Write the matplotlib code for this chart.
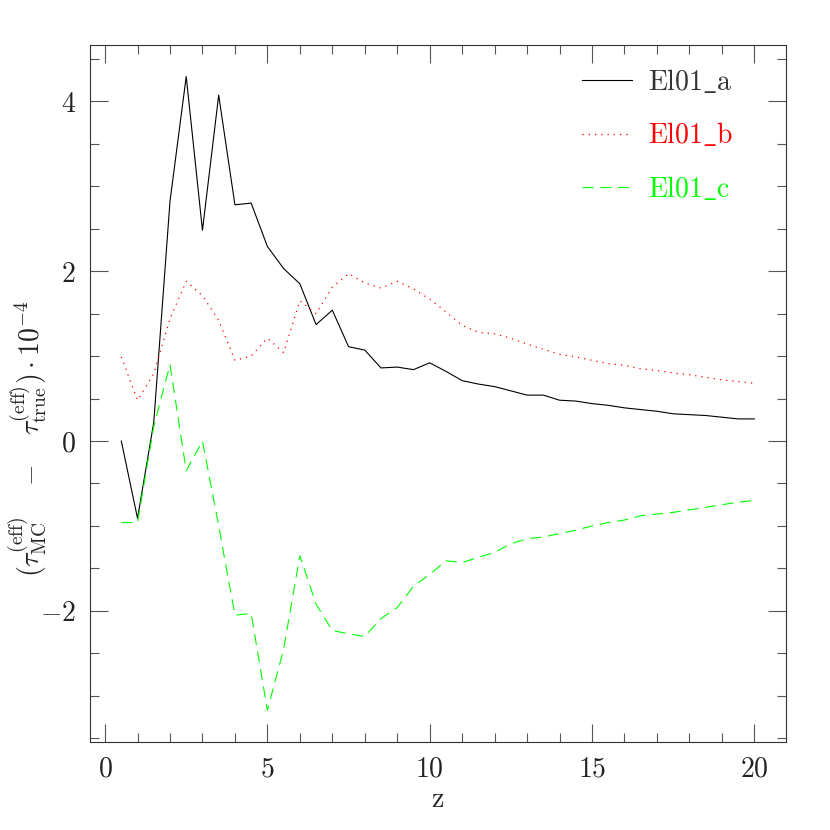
import matplotlib
matplotlib.use("Agg")
import matplotlib.pyplot as plt
from matplotlib.ticker import MultipleLocator, FuncFormatter
import numpy as np

plt.rcParams['mathtext.fontset'] = 'cm'
plt.rcParams['font.family'] = ['DejaVu Serif']

z = [0.5, 1.0, 1.5, 2.0, 2.5, 3.0, 3.5, 4.0, 4.5, 5.0, 5.5, 6.0, 6.5, 7.0, 7.5, 8.0,
     8.5, 9.0, 9.5, 10.0, 10.5, 11.0, 11.5, 12.0, 12.5, 13.0, 13.5, 14.0, 14.5, 15.0,
     15.5, 16.0, 16.5, 17.0, 17.5, 18.0, 18.5, 19.0, 19.5, 20.0]

el01_a = [0.00, -0.91, 0.22, 2.82, 4.29, 2.48, 4.07, 2.78, 2.80, 2.29, 2.03, 1.85, 1.37, 1.54,
          1.11, 1.07, 0.86, 0.87, 0.84, 0.92, 0.82, 0.71, 0.67, 0.64, 0.59, 0.54, 0.54, 0.48,
          0.47, 0.44, 0.42, 0.39, 0.37, 0.35, 0.32, 0.31, 0.30, 0.28, 0.26, 0.26]

el01_b = [0.99, 0.48, 0.79, 1.44, 1.88, 1.71, 1.42, 0.95, 1.00, 1.21, 1.04, 1.65, 1.50, 1.81,
          1.97, 1.86, 1.80, 1.88, 1.79, 1.67, 1.52, 1.36, 1.28, 1.26, 1.21, 1.14, 1.08, 1.02,
          0.99, 0.95, 0.91, 0.89, 0.85, 0.83, 0.80, 0.78, 0.75, 0.72, 0.70, 0.68]

el01_c = [-0.96, -0.96, 0.17, 0.90, -0.35, 0.00, -1.00, -2.05, -2.03, -3.17, -2.45, -1.35,
          -1.92, -2.23, -2.27, -2.30, -2.09, -1.96, -1.71, -1.57, -1.41, -1.43, -1.37, -1.31,
          -1.21, -1.15, -1.13, -1.09, -1.05, -1.00, -0.96, -0.93, -0.88, -0.86, -0.84, -0.81,
          -0.78, -0.75, -0.72, -0.70]

labels = [r'$\rm El01\_a$', r'$\rm El01\_b$', r'$\rm El01\_c$']

fig = plt.figure(figsize=(8.3, 8.3), dpi=100)
ax = fig.add_axes([0.108, 0.106, 0.839, 0.840])

ax.plot(z, el01_a, color='black', lw=0.8, ls='-', label=labels[0])
ax.plot(z, el01_b, color='red', lw=0.9, ls=(0, (1, 4)), label=labels[1])
ax.plot(z, el01_c, color='#00ff00', lw=0.8, ls=(0, (10, 6)), label=labels[2])

ax.xaxis.set_major_locator(MultipleLocator(5))
ax.xaxis.set_minor_locator(MultipleLocator(1))
ax.yaxis.set_major_locator(MultipleLocator(2))
ax.yaxis.set_minor_locator(MultipleLocator(0.5))
fmt = FuncFormatter(lambda v, p: r'$%d$' % int(round(v)))
ax.xaxis.set_major_formatter(fmt)
ax.yaxis.set_major_formatter(fmt)

ax.tick_params(which='both', direction='in', top=True, right=True, color='#555555', width=0.8)
ax.tick_params(which='major', length=13, labelsize=20, pad=10, labelcolor='#222222')
ax.tick_params(which='minor', length=6.5)
for s in ax.spines.values():
    s.set_color('#333333')
    s.set_linewidth(0.8)

ax.set_xlabel(r'$\rm z$', fontsize=20, color='#222222', labelpad=2)
ax.set_ylabel(r'$(\tau^{\rm (eff)}_{\rm MC}\ \ \ -\ \ \ \tau^{\rm (eff)}_{\rm true})\cdot 10^{-4}$',
              fontsize=20, color='#222222')
ax.yaxis.set_label_coords(-0.06, 0.435)

leg = ax.legend(loc='upper right', bbox_to_anchor=(0.980, 1.023), frameon=False,
                fontsize=20, handlelength=1.8, handletextpad=0.55, labelspacing=0.92,
                borderaxespad=1.0, labelcolor='linecolor')
leg.get_texts()[0].set_color('#333333')

fig.savefig('out.png', dpi=100)
